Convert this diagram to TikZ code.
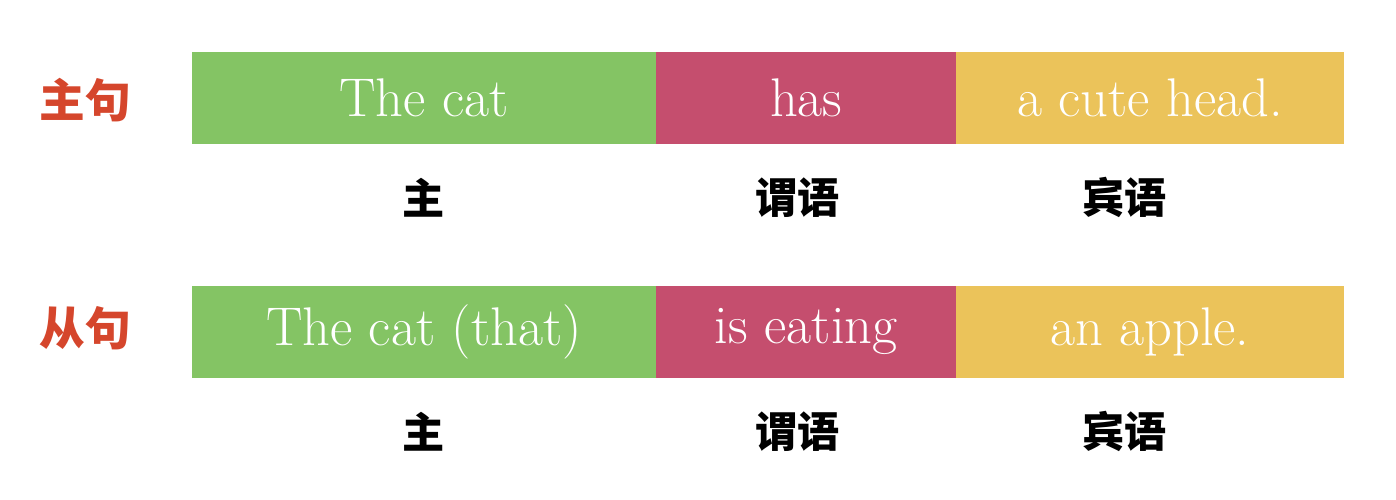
\documentclass[tikz,border=0pt]{standalone}
\usepackage{fontspec}
\newfontfamily\cjk{Noto Sans CJK SC}
\usetikzlibrary{positioning}

\definecolor{subjgreen}{HTML}{84C464}
\definecolor{verbred}{HTML}{C54E6E}
\definecolor{objyellow}{HTML}{EBC35A}
\definecolor{labelred}{HTML}{D5462C}

\begin{document}
\begin{tikzpicture}[
  seg/.style={rectangle, minimum height=1.82cm, inner sep=0pt, text=white,
  font=\fontsize{31}{36}\selectfont},
  role/.style={font=\cjk\bfseries\fontsize{24}{28}\selectfont, text=black},
  clause/.style={font=\cjk\bfseries\fontsize{26}{30}\selectfont, text=labelred}
]
\useasboundingbox (0,0) rectangle (27.92,-10);

% main clause
\node[seg, fill=subjgreen, draw=subjgreen, minimum width=9.28cm] (s1) at (8.48,-1.95) {The cat};
\node[seg, fill=verbred, draw=verbred, minimum width=5.98cm, right=0pt of s1] (v1) {has};
\node[seg, fill=objyellow, draw=objyellow, minimum width=7.74cm, right=0pt of v1] (o1) {a cute head.};
\node[clause] (c1) at (1.7,-2.0) {主句};
\node[role] (r1) at ([yshift=-1.08cm]s1.south) {主};
\node[role] (r2) at ([xshift=-0.17cm,yshift=-1.08cm]v1.south) {谓语};
\node[role] (r3) at ([xshift=-0.5cm,yshift=-1.08cm]o1.south) {宾语};

% subordinate clause
\node[seg, fill=subjgreen, draw=subjgreen, minimum width=9.28cm] (s2) at (8.48,-6.63) {The cat (that)};
\node[seg, fill=verbred, draw=verbred, minimum width=5.98cm, right=0pt of s2] (v2) {is eating};
\node[seg, fill=objyellow, draw=objyellow, minimum width=7.74cm, right=0pt of v2] (o2) {an apple.};
\node[clause] (c2) at (1.7,-6.56) {从句};
\node[role] (r4) at ([yshift=-1.08cm]s2.south) {主};
\node[role] (r5) at ([xshift=-0.17cm,yshift=-1.08cm]v2.south) {谓语};
\node[role] (r6) at ([xshift=-0.5cm,yshift=-1.08cm]o2.south) {宾语};
\end{tikzpicture}
\end{document}
